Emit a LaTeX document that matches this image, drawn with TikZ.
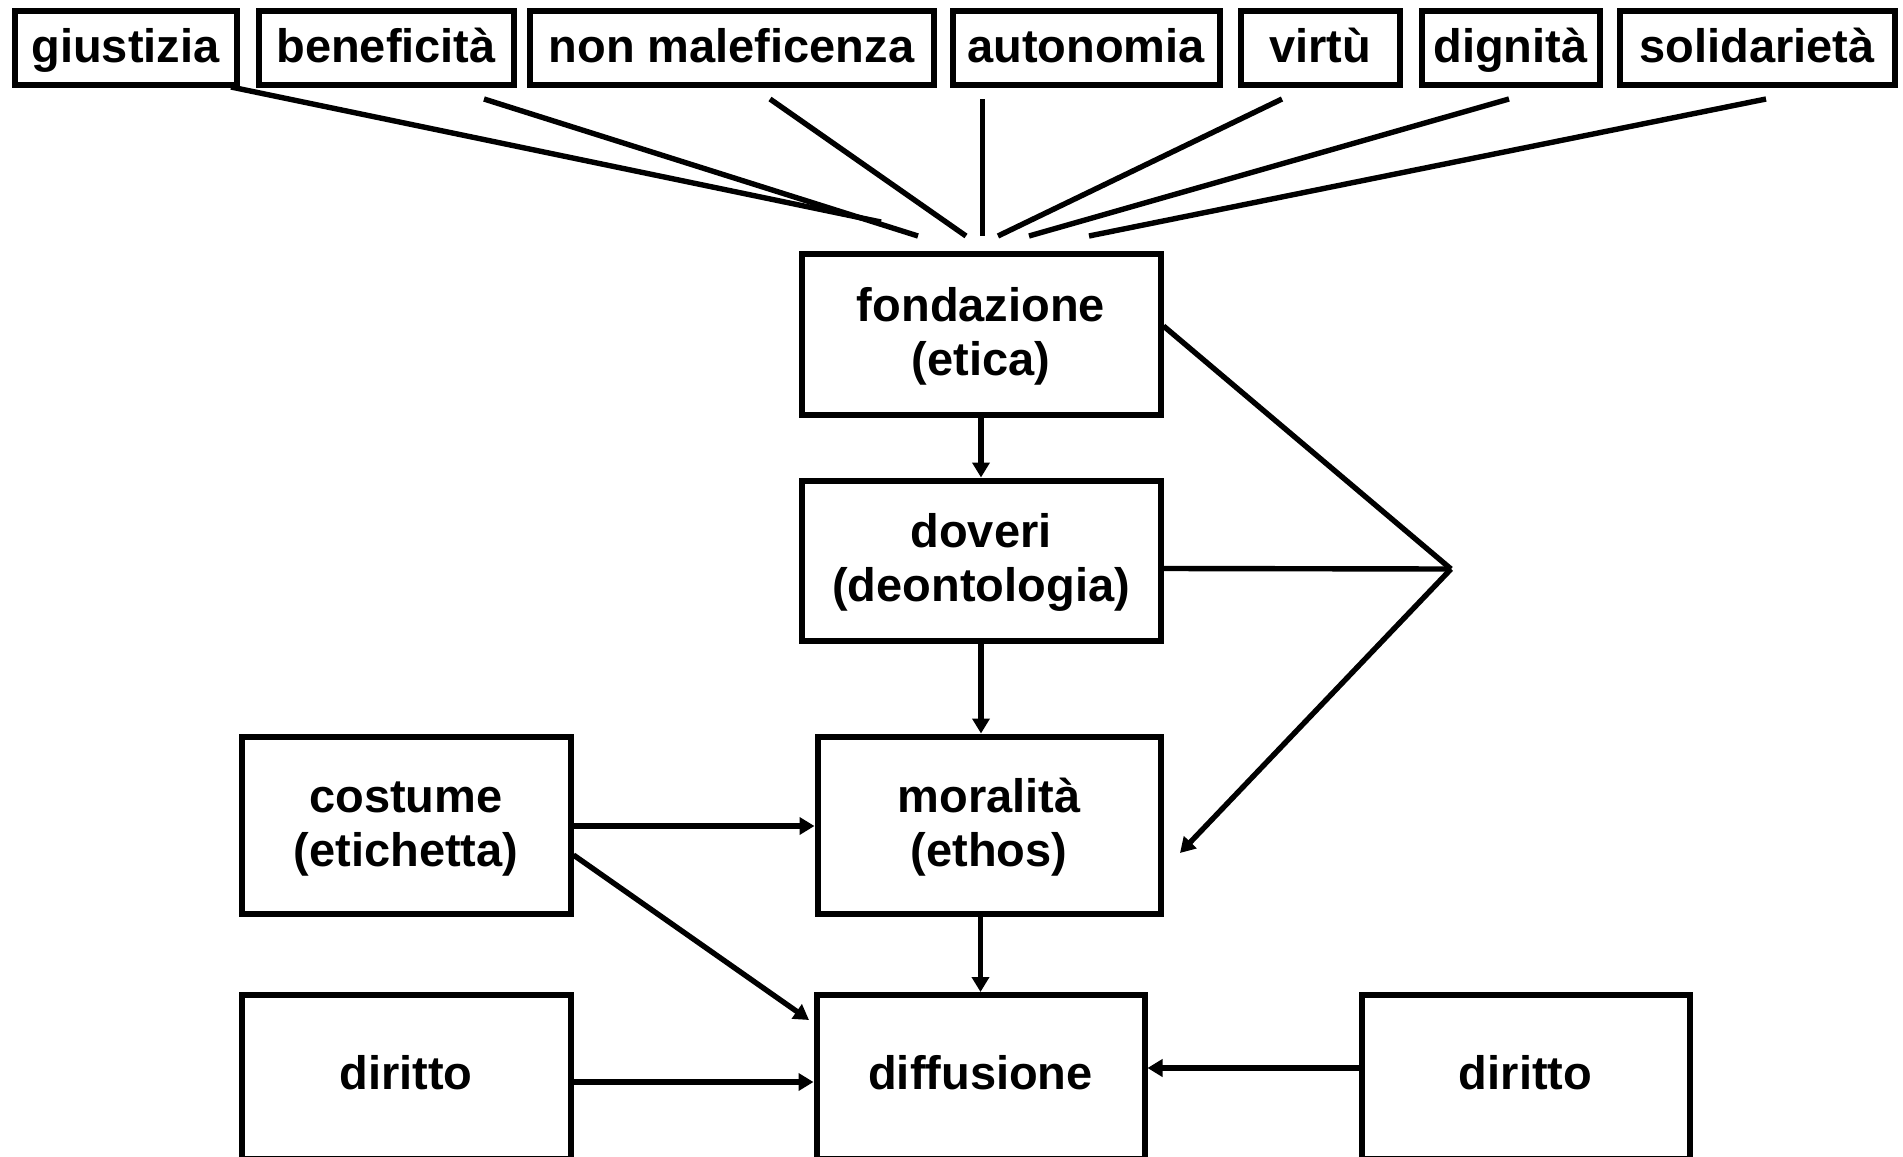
\documentclass[tikz,border=0pt]{standalone}
\usepackage{fontspec}
\setmainfont{Liberation Sans}
\usetikzlibrary{arrows.meta}
\newcommand\toprl{\rule{0pt}{22pt}}
\newcommand\botrl{\rule[-8pt]{0pt}{0pt}}
\begin{document}
\begin{tikzpicture}[x=0.5pt,y=-0.5pt,
  lbl/.style={draw, line width=3pt, inner sep=0pt, align=center,
    font=\fontsize{23.5pt}{27pt}\selectfont\bfseries},
  one/.style={lbl, text height=17pt, text depth=5pt},
  topbox/.style={lbl, text height=19pt, text depth=4pt, minimum height=37pt},
  conn/.style={line width=2.7pt, line cap=butt},
  arr/.style={line width=2.7pt, -{Triangle[length=7.5pt,width=8.5pt]}},
]
\useasboundingbox (0,0) rectangle (1903,1157);
% top row
\node[topbox, minimum width=111pt]   (giu) at (125.5,47.5) {giustizia};
\node[topbox, minimum width=127.5pt] (ben) at (386,47.5) {beneficità};
\node[topbox, minimum width=202pt]   (nmal) at (731.5,47.5) {non maleficenza};
\node[topbox, minimum width=133.5pt] (aut) at (1086,47.5) {autonomia};
\node[topbox, minimum width=79.5pt]  (vir) at (1320,47.5) {virtù};
\node[topbox, minimum width=89pt]    (dig) at (1510.5,47.5) {dignità};
\node[topbox, minimum width=137.5pt] (sol) at (1757,47.5) {solidarietà};
% main boxes
\node[lbl, minimum width=179.5pt, minimum height=80.5pt] (fond) at (981,334) {\toprl fondazione\\(etica)\botrl};
\node[lbl, minimum width=179.5pt, minimum height=80pt] (dov) at (981,560.5) {\toprl doveri\\(deontologia)\botrl};
\node[lbl, minimum width=171.5pt, minimum height=88.5pt] (mor) at (989,825) {\toprl moralità\\(ethos)\botrl};
\node[lbl, minimum width=164.5pt, minimum height=88.5pt] (cost) at (406,825) {\toprl costume\\(etichetta)\botrl};
\node[one, minimum width=164.5pt, minimum height=82pt] (dirL) at (406,1077) {diritto};
\node[one, minimum width=164pt, minimum height=82pt] (diff) at (980.5,1077) {diffusione};
\node[one, minimum width=164pt, minimum height=82pt] (dirR) at (1525.5,1077) {diritto};
% converging lines (free ends)
\coordinate (g1) at (231,87);   \coordinate (g2) at (881,222);
\coordinate (b1) at (484,99);   \coordinate (b2) at (918,236);
\coordinate (n1) at (770,99);   \coordinate (n2) at (966,236);
\coordinate (a1) at (982,99);   \coordinate (a2) at (982,236);
\coordinate (v1) at (1282,99);  \coordinate (v2) at (998,236);
\coordinate (d1) at (1509,99);  \coordinate (d2) at (1029,236);
\coordinate (s1) at (1766,99);  \coordinate (s2) at (1089,236);
\draw[conn] (g1) -- (g2);
\draw[conn] (b1) -- (b2);
\draw[conn] (n1) -- (n2);
\draw[conn, line width=2.5pt] (a1) -- (a2);
\draw[conn] (v1) -- (v2);
\draw[conn] (d1) -- (d2);
\draw[conn] (s1) -- (s2);
% right convergence
\coordinate (conv) at (1451,569);
\coordinate (mtip) at (1180,853);
\draw[conn] ([yshift=4pt]fond.east) -- (conv);
\draw[conn] ([yshift=-4pt]dov.east) -- (conv);
\draw[arr] (conv) -- (mtip);
% vertical arrows
\draw[arr] (fond.south) -- (dov.north);
\draw[arr] (dov.south) -- (dov.south |- mor.north);
\draw[arr] (diff.north |- mor.south) -- (diff.north);
% horizontal / diagonal arrows
\coordinate (yC) at (0,826);
\coordinate (yL) at (0,1082);
\coordinate (yR) at (0,1068);
\coordinate (ctip) at (809,1020);
\draw[arr] (cost.east |- yC) -- (mor.west |- yC);
\draw[arr] ([yshift=-15pt]cost.east) -- (ctip);
\draw[arr] (dirL.east |- yL) -- (diff.west |- yL);
\draw[arr] (dirR.west |- yR) -- (diff.east |- yR);
\end{tikzpicture}
\end{document}
